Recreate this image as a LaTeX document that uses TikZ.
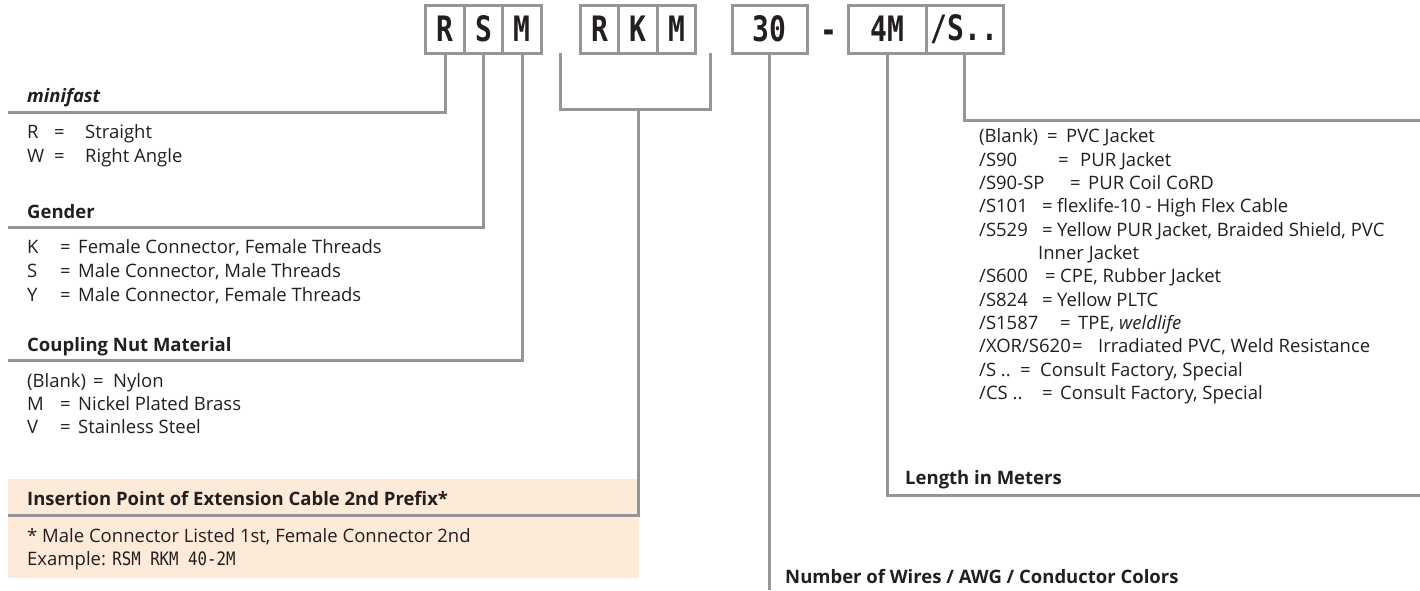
\documentclass[tikz,border=0pt]{standalone}
\usepackage{fontspec}
\setmainfont{Open Sans}
\setmonofont[FakeStretch=0.85]{DejaVu Sans Mono}
\newfontfamily\codefont[FakeStretch=0.8]{DejaVu Sans Mono}
\usetikzlibrary{positioning}
\definecolor{leadgray}{HTML}{939598}
\definecolor{peach}{HTML}{FDEAD8}
\definecolor{ink}{HTML}{231F20}
\newcommand\bodysize{\fontsize{18.5}{23.33}\selectfont}
\newcommand\kv[4]{\makebox[#1][l]{#2}\makebox[#3][l]{=}#4}
\tikzset{
	cell/.style={
		draw=leadgray, line width=3pt,
		minimum width=38.5pt,
		minimum height=48pt,
		inner sep=0pt, outer sep=0pt,
		text=ink,
		font=\codefont\bfseries\fontsize{35}{35}\selectfont},
	widecell/.style={cell, minimum width=77pt},
	lead/.style={draw=leadgray, line width=3pt},
	heading/.style={anchor=base west, inner sep=0pt, text=ink, font=\bodysize\bfseries},
	entry/.style={anchor=base west, inner sep=0pt, text=ink, font=\bodysize},
	insbox/.style={fill=peach, anchor=north west, inner sep=0pt,
		minimum width=631pt, minimum height=99pt},
}
\begin{document}
\begin{tikzpicture}[x=1pt, y=-1pt]
\useasboundingbox (0,0) rectangle (1420,590);
% order code boxes
\node[cell] (r1) at (445,29) {R};
\node[cell, right=0pt of r1] (s1) {S};
\node[cell, right=0pt of s1] (m1) {M};
\node[cell] (r2) at (599.5,29) {R};
\node[cell, right=0pt of r2] (k2) {K};
\node[cell, right=0pt of k2] (m2) {M};
\node[widecell, minimum width=75pt] (wires30) at (769.5,29) {30};
\node[anchor=base, inner sep=0pt, text=ink, font=\codefont\bfseries\fontsize{35}{35}\selectfont] (dash) at (829,42) {-};
\node[widecell, minimum width=78pt] (len4m) at (887,29) {4M};
\node[widecell, right=0pt of len4m] (jacket) {/S..};

% shaded note box
\node[insbox] (ins) at (8,479) {};

% free ends of the leads
\coordinate (mfL) at (8,112);
\coordinate (gdL) at (8,227);
\coordinate (cnL) at (8,360);
\coordinate (insL) at (8,515);
\coordinate (rkmL) at ([xshift=-20pt]r2.south west);
\coordinate (rkmR) at ([xshift=15pt]m2.south east);
\coordinate (rkmB) at ([yshift=-56pt]k2.south);
\coordinate (wiresEnd) at (769.5,590);
\coordinate (lenR) at (1420,495);
\coordinate (jacketR) at (1420,120);

\draw[lead] (r1.south) |- (mfL);
\draw[lead] (s1.south) |- (gdL);
\draw[lead] (m1.south) |- (cnL);
\draw[lead] (rkmL) |- (rkmB) -| (rkmR);
\draw[lead] (rkmB) |- (insL);
\draw[lead] (wires30.south) -- (wiresEnd);
\draw[lead] (len4m.south) |- (lenR);
\draw[lead] (jacket.south) |- (jacketR);

% left column
\node[heading, font=\bodysize\bfseries\itshape] (minifast) at (27,102) {minifast};
\node[entry] (straight) at (27,138) {\kv{27pt}{R}{31pt}{Straight}};
\node[entry] (angle) at (27,162) {\kv{27pt}{W}{31pt}{Right Angle}};

\node[heading] (gender) at (27,218) {Gender};
\node[entry] (female) at (27,253) {\kv{33pt}{K}{18pt}{Female Connector, Female Threads}};
\node[entry] (male) at (27,277) {\kv{33pt}{S}{18pt}{Male Connector, Male Threads}};
\node[entry] (mixed) at (27,301) {\kv{33pt}{Y}{18pt}{Male Connector, Female Threads}};

\node[heading] (coupling) at (27,351) {Coupling Nut Material};
\node[entry] (nylon) at (27,387) {\kv{66pt}{(Blank)}{20pt}{Nylon}};
\node[entry] (brass) at (27,410) {\kv{33pt}{M}{18pt}{Nickel Plated Brass}};
\node[entry] (steel) at (27,433) {\kv{33pt}{V}{18pt}{Stainless Steel}};

\node[heading] (insertion) at (27,505) {Insertion Point of Extension Cable 2nd Prefix*};
\node[entry] (note) at (27,542) {* Male Connector Listed 1st, Female Connector 2nd};
\node[entry] (example) at (27,565) {Example: \texttt{RSM RKM 40-2M}};

% right column
\node[entry] (pvc) at (979,142.7) {\kv{68pt}{(Blank)}{19pt}{PVC Jacket}};
\node[entry] (s90) at (979,166) {\kv{79pt}{/S90}{22pt}{PUR Jacket}};
\node[entry] (s90sp) at (979,189.3) {\kv{91pt}{/S90-SP}{18pt}{PUR Coil CoRD}};
\node[entry] (s101) at (979,212.7) {\kv{63pt}{/S101}{15pt}{flexlife-10 - High Flex Cable}};
\node[entry] (s529) at (979,236) {\kv{63pt}{/S529}{15pt}{Yellow PUR Jacket, Braided Shield, PVC}};
\node[entry] (s529b) at (1038,259.3) {Inner Jacket};
\node[entry] (s600) at (979,282.7) {\kv{66pt}{/S600}{15pt}{CPE, Rubber Jacket}};
\node[entry] (s824) at (979,306) {\kv{63pt}{/S824}{15pt}{Yellow PLTC}};
\node[entry] (s1587) at (979,329.3) {\kv{81pt}{/S1587}{18pt}{TPE, \textit{weldlife}}};
\node[entry] (xor) at (979,352.7) {\kv{93pt}{/XOR/S620}{26pt}{Irradiated PVC, Weld Resistance}};
\node[entry] (sdots) at (979,376) {\kv{41pt}{/S ..}{20pt}{Consult Factory, Special}};
\node[entry] (csdots) at (979,399.3) {\kv{63pt}{/CS ..}{18pt}{Consult Factory, Special}};

\node[heading] (length) at (905,484) {Length in Meters};
\node[heading] (wires) at (785,583) {Number of Wires / AWG / Conductor Colors};
\end{tikzpicture}
\end{document}
